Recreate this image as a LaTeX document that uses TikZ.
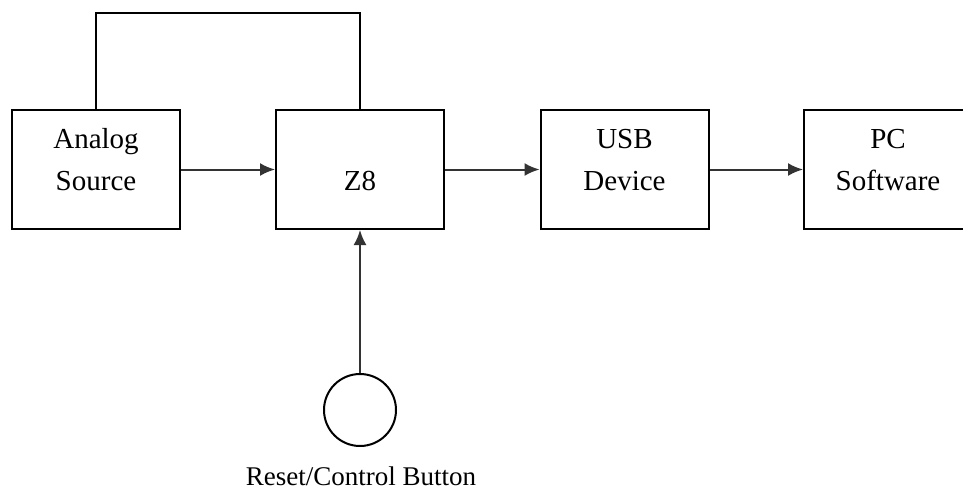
\documentclass[tikz,border=0pt]{standalone}
\usepackage{fontspec}
\setmainfont{Liberation Serif}
\usetikzlibrary{positioning,arrows.meta}

\newcommand{\rowstrut}{\rule[-21pt]{0pt}{42pt}}

\begin{document}
\begin{tikzpicture}
    [
      x=1pt, y={(0pt,-1pt)},
      >={Latex[length=15pt,width=13pt]},
      Block/.style={rectangle, draw=black, fill=white, line width=2pt, minimum width=168pt, minimum height=119pt, inner sep=0pt, align=center, font=\fontsize{29}{42}\selectfont},
      Round/.style={circle, draw=black, line width=2pt, minimum size=72pt, inner sep=0pt},
      Text/.style={font=\fontsize{27}{32}\selectfont, inner sep=0pt},
    ]
    \useasboundingbox (0, 0) rectangle (963, 491);

    % Nodes
    \node[Block] (analog) at (96, 169.5) {\rowstrut Analog\\\rowstrut Source};
    \node[Block] (z8) at (360, 169.5) {\rowstrut\\\rowstrut Z8};
    \node[Block] (usb) at (624.5, 169.5) {\rowstrut USB\\\rowstrut Device};
    \node[Block] (pc) at (888, 169.5) {\rowstrut PC\\\rowstrut Software};

    \node[Round] (button) at (360, 410) {};
    \node[Text, anchor=base] (buttontext) at (361, 485) {Reset/Control Button};

    \coordinate (loop) at (228, 13);

    % Lines
      \path [draw, line width=2pt] (analog.north) |- (loop) -| (z8.north);

      \path [->, draw, line width=2pt, black!80] (analog) -- (z8);
      \path [->, draw, line width=2pt, black!80] (z8) -- (usb);
      \path [->, draw, line width=2pt, black!80] (usb) -- (pc);

      \path [->, draw, line width=2pt, black!80] (button) -- (z8);

  \end{tikzpicture}
\end{document}
